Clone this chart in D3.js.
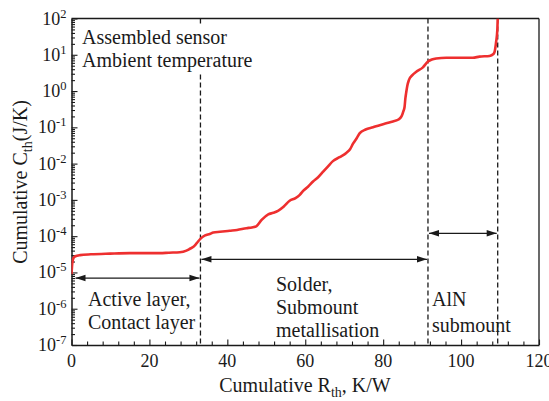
<!DOCTYPE html>
<html>
<head>
<meta charset="utf-8">
<script src="https://cdn.jsdelivr.net/npm/d3@7"></script>
<style>
  @font-face { font-family: "ChartSerif"; src: local("Liberation Serif"), local("LiberationSerif"), local("LiberationSerif-Regular"), local("Times New Roman"); }
</style>
</head>
<body style="margin:0">
<svg id="chart" width="549" height="401"></svg>
<script>
// Cumulative structure function: R_th (K/W) vs C_th (J/K)
const rth = [0, 0.2, 0.5, 1, 2.2, 5, 9.9, 15, 22.7, 25, 27.8, 29.5, 30.4, 31.3, 32.1, 33.2, 34.3, 35.5, 36.4, 38.1,
  40.6, 42.5, 44.9, 46.3, 47.5, 48.8, 50.5, 51.8, 53, 54.5, 56, 57.5, 58.6, 59.4, 60.7, 62, 63.3, 64.6, 65.8, 67.1,
  68.8, 70.6, 71.5, 72.3, 73.2, 74, 75.5, 77.4, 79.1, 80.8, 82.5, 83.8, 84.7, 85.2, 85.5, 85.7, 85.9, 86.2, 86.6, 87.5,
  88.5, 90.2, 91.5, 92.5, 93.6, 96.2, 100, 103, 104.7, 107.3, 108.3, 108.6, 109, 109.3, 109.4];
const cth = [8.9e-6, 1.78e-5, 2.5e-5, 2.8e-5, 3.0e-5, 3.16e-5, 3.3e-5, 3.4e-5, 3.4e-5, 3.5e-5, 3.6e-5, 4.0e-5, 4.5e-5, 5.1e-5, 6.3e-5, 8.7e-5, 1.05e-4, 1.15e-4, 1.26e-4, 1.32e-4,
  1.41e-4, 1.48e-4, 1.66e-4, 1.74e-4, 1.9e-4, 2.8e-4, 4.0e-4, 4.4e-4, 5.0e-4, 6.6e-4, 9.5e-4, 1.12e-3, 1.38e-3, 1.74e-3, 2.3e-3, 3.2e-3, 4.2e-3, 6.0e-3, 8.3e-3, 1.17e-2,
  1.5e-2, 2.0e-2, 2.5e-2, 3.6e-2, 5.0e-2, 6.9e-2, 8.7e-2, 0.1, 0.115, 0.129, 0.145, 0.162, 0.2, 0.28, 0.37, 0.63, 0.89, 1.41, 2.0, 2.75,
  3.4, 4.5, 6.5, 7.4, 7.9, 8.3, 8.3, 8.3, 8.9, 9.3, 10.5, 12, 23, 48, 100];

// Region boundaries (K/W) and annotation arrows
const boundaries = [33.1, 91.5, 109.4];
const arrowSpans = [[0, 33.1], [33.1, 91.5], [91.5, 109.4]];
const arrowLevels = [7e-6, 2.3e-5, 1.2e-4];

const xTicks = [0, 20, 40, 60, 80, 100, 120];
const yExponents = [2, 1, 0, -1, -2, -3, -4, -5, -6, -7];

const xLabel = "Cumulative R";
const yLabel = "Cumulative C";

const svg = d3.select("#chart");
const L = 71.5, R = 539, T = 18.5, B = 345;
const ink = "#1a1a1a";
const face = "\"Liberation Serif\", ChartSerif, \"Times New Roman\", Times";
const setFace = sel => sel.each(function () { this.style.setProperty("font-family", face, "important"); });

const x = d3.scaleLinear().domain([0, 120]).range([L, R]);
const y = d3.scaleLog().domain([1e-7, 1e2]).range([B, T]);

svg.append("defs").append("clipPath").attr("id", "plotclip")
  .append("rect").attr("x", L).attr("y", T).attr("width", R - L).attr("height", B - T);

// Minor / major ticks (inward)
const xAxis = d3.axisBottom(x).tickValues(d3.range(0, 121, 4)).tickSizeInner(-3).tickSizeOuter(0).tickFormat("");
const gx = svg.append("g").attr("transform", `translate(0,${B})`).call(xAxis);
gx.selectAll(".tick line").attr("y2", d => (d % 20 === 0 ? -5.5 : -3.5));

const yMinor = [];
for (let e = -7; e < 2; e++) for (let m = 1; m <= 9; m++) yMinor.push(m * Math.pow(10, e));
yMinor.push(100);
const yAxis = d3.axisLeft(y).tickValues(yMinor).tickSizeInner(-3.5).tickSizeOuter(0).tickFormat("");
const gy = svg.append("g").attr("transform", `translate(${L},0)`).call(yAxis);
gy.selectAll(".tick line").attr("x2", d => {
  const lg = Math.log10(d);
  return Math.abs(lg - Math.round(lg)) < 1e-9 ? 6 : 3.5;
});
// the axis generator adds empty tick texts; drop them
gx.selectAll(".tick text").remove();
gy.selectAll(".tick text").remove();
gx.attr("font-family", null);
gy.attr("font-family", null);

[gx, gy].forEach(g => {
  g.selectAll("path.domain").attr("stroke", ink).attr("stroke-width", 1.5);
  g.selectAll(".tick line").attr("stroke", ink).attr("stroke-width", 1.1);
});

// Frame top and right
svg.append("line").attr("x1", L).attr("x2", R).attr("y1", T).attr("y2", T).attr("stroke", ink).attr("stroke-width", 1.3);
svg.append("line").attr("x1", R).attr("x2", R).attr("y1", T).attr("y2", B).attr("stroke", ink).attr("stroke-width", 1.3);

// Dashed boundary lines
svg.append("g").selectAll("line").data(boundaries).join("line")
  .attr("x1", d => x(d)).attr("x2", d => x(d)).attr("y1", T).attr("y2", B)
  .attr("stroke", ink).attr("stroke-width", 1.3).attr("stroke-dasharray", "5,3");

// Curve
const line = d3.line().x(d => x(d[0])).y(d => y(d[1])).curve(d3.curveMonotoneX);
svg.append("path").datum(d3.zip(rth, cth))
  .attr("clip-path", "url(#plotclip)")
  .attr("fill", "none").attr("stroke", "#ee2f2f").attr("stroke-width", 2.6)
  .attr("stroke-linejoin", "round").attr("d", line);

// Double-headed arrows
const ag = svg.append("g");
arrowSpans.forEach((s, i) => {
  const yy = y(arrowLevels[i]);
  const x0 = x(s[0]) + (i === 0 ? 4 : 1), x1 = x(s[1]) - 1;
  ag.append("line").attr("x1", x0).attr("x2", x1).attr("y1", yy).attr("y2", yy)
    .attr("stroke", ink).attr("stroke-width", 1.2);
  ag.append("path").attr("fill", ink)
    .attr("d", `M${x0},${yy}L${x0 + 10},${yy - 3.2}L${x0 + 10},${yy + 3.2}Z`);
  ag.append("path").attr("fill", ink)
    .attr("d", `M${x1},${yy}L${x1 - 10},${yy - 3.2}L${x1 - 10},${yy + 3.2}Z`);
});

// Header text box (white background hides the boundary line behind it)
svg.append("rect").attr("x", 78).attr("y", 25).attr("width", 172).attr("height", 49).attr("fill", "#fff");
const header = [{ y: 44, t: "Assembled sensor" }, { y: 67, t: "Ambient temperature" }];
svg.append("g").selectAll("text").data(header).join("text")
  .attr("x", 82).attr("y", d => d.y).attr("font-size", 20).attr("fill", ink)
  .call(setFace).text(d => d.t);

// Tick labels
svg.append("g").selectAll("text").data(xTicks).join("text")
  .attr("x", d => x(d)).attr("y", B + 22)
  .attr("text-anchor", "middle").attr("font-size", 18).attr("fill", ink)
  .call(setFace).text(d => d);

const yl = svg.append("g").selectAll("text").data(yExponents).join("text")
  .attr("x", L - 5).attr("y", d => y(Math.pow(10, d)) + 6)
  .attr("text-anchor", "end").attr("font-size", 18).attr("fill", ink)
  .call(setFace);
yl.append("tspan").text("10");
yl.append("tspan").attr("dy", -7).attr("font-size", 12.5).text(d => (d < 0 ? "-" + (-d) : d));

// Region labels
const regionText = [
  { x: 88, y: 306, t: "Active layer," },
  { x: 88, y: 329, t: "Contact layer" },
  { x: 276, y: 291, t: "Solder," },
  { x: 276, y: 314, t: "Submount" },
  { x: 276, y: 337, t: "metallisation" },
  { x: 432, y: 306, t: "AlN" },
  { x: 432, y: 332, t: "submount" }
];
svg.append("g").selectAll("text").data(regionText).join("text")
  .attr("x", d => d.x).attr("y", d => d.y).attr("font-size", 20).attr("fill", ink)
  .call(setFace).text(d => d.t);

// Axis titles
const xt = svg.append("text").attr("x", 305).attr("y", 392).attr("text-anchor", "middle")
  .attr("font-size", 20).attr("fill", ink).call(setFace);
xt.append("tspan").text(xLabel);
xt.append("tspan").attr("dy", 5).attr("font-size", 14).text("th");
xt.append("tspan").attr("dy", -5).text(", K/W");

const yt = svg.append("text").attr("transform", "translate(27,182) rotate(-90)").attr("text-anchor", "middle")
  .attr("font-size", 20).attr("fill", ink).call(setFace);
yt.append("tspan").text(yLabel);
yt.append("tspan").attr("dy", 5).attr("font-size", 14).text("th");
yt.append("tspan").attr("dy", -5).text("(J/K)");
</script>
</body>
</html>
